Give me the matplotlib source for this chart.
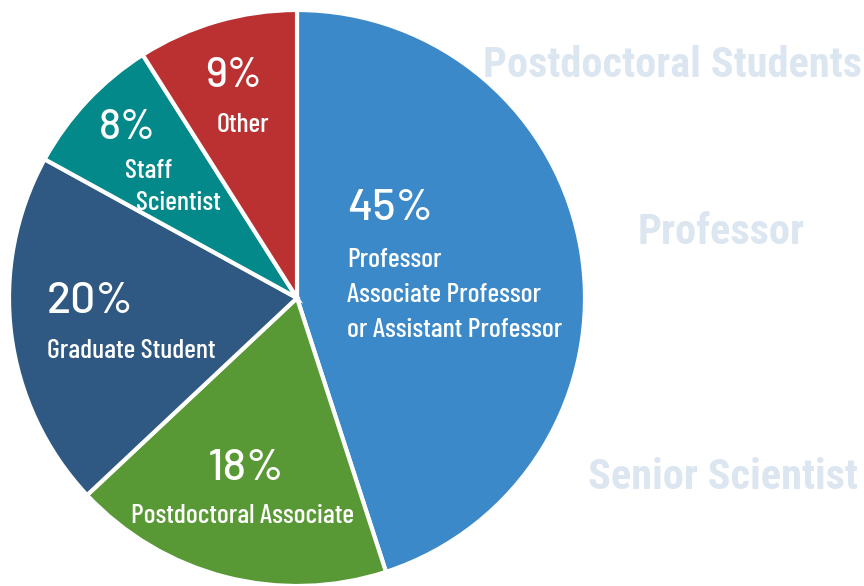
import matplotlib

matplotlib.use("Agg")

import matplotlib.pyplot as plt

# share of respondents by position, clockwise from 12 o'clock
categories = ["Professor", "Postdoctoral Associate", "Graduate Student", "Staff Scientist", "Other"]
shares = [45, 18, 20, 8, 9]
colors = ["#3C89C9", "#599935", "#2F5982", "#04898A", "#BB3030"]

# faded labels drawn behind on the right
ghost_labels = ["Postdoctoral Students", "Professor", "Senior Scientist"]

W, H = 864, 586
NARROW = ["Barlow Condensed", "DejaVu Sans"]
GHOST = ["Roboto Condensed", "DejaVu Sans"]
PCT = ["Barlow", "Liberation Sans", "DejaVu Sans"]


def px(x, y):
    return x / W, 1 - y / H


fig = plt.figure(figsize=(W / 100, H / 100), dpi=100)

# faded background labels
for text, (x, y) in zip(ghost_labels, [(483, 77), (638, 244), (588, 489)]):
    fig.text(*px(x, y), text, color="#DCE6F0", fontsize=30.5, fontweight="bold",
             family=GHOST, ha="left", va="baseline")

cx, cy, r = 297, 298, 288
ax = fig.add_axes([(cx - r) / W, (H - cy - r) / H, 2 * r / W, 2 * r / H])
ax.pie(shares, colors=colors, startangle=90, counterclock=False,
       wedgeprops=dict(edgecolor="white", linewidth=3))
ax.set_xlim(-1, 1)
ax.set_ylim(-1, 1)
ax.set_aspect("equal")
ax.axis("off")

pct = [f"{s}%" for s in shares]


def label(x, y, text, size, fam, ha="left", weight="medium"):
    fig.text(*px(x, y), text, color="white", fontsize=size, family=fam,
             fontweight=weight, ha=ha, va="baseline")


# Professor slice
label(347, 220, pct[0], 32, PCT)
label(347, 267, "Professor", 20, NARROW)
label(347, 302, "Associate Professor", 20, NARROW)
label(347, 337, "or Assistant Professor", 20, NARROW)

# Postdoctoral Associate slice
label(246, 480, pct[1], 32, PCT, ha="center")
label(242, 523, categories[1], 20, NARROW, ha="center")

# Graduate Student slice
label(47, 313, pct[2], 32, PCT)
label(47, 358, categories[2], 20, NARROW)

# Staff Scientist slice
label(127, 139, pct[3], 30, PCT, ha="center")
label(149, 178, "Staff", 20, NARROW, ha="center")
label(178, 210, "Scientist", 20, NARROW, ha="center")

# Other slice
label(234, 87, pct[4], 30, PCT, ha="center")
label(243, 132, categories[4], 20, NARROW, ha="center")

fig.savefig("out.png", dpi=100)
plt.close(fig)
